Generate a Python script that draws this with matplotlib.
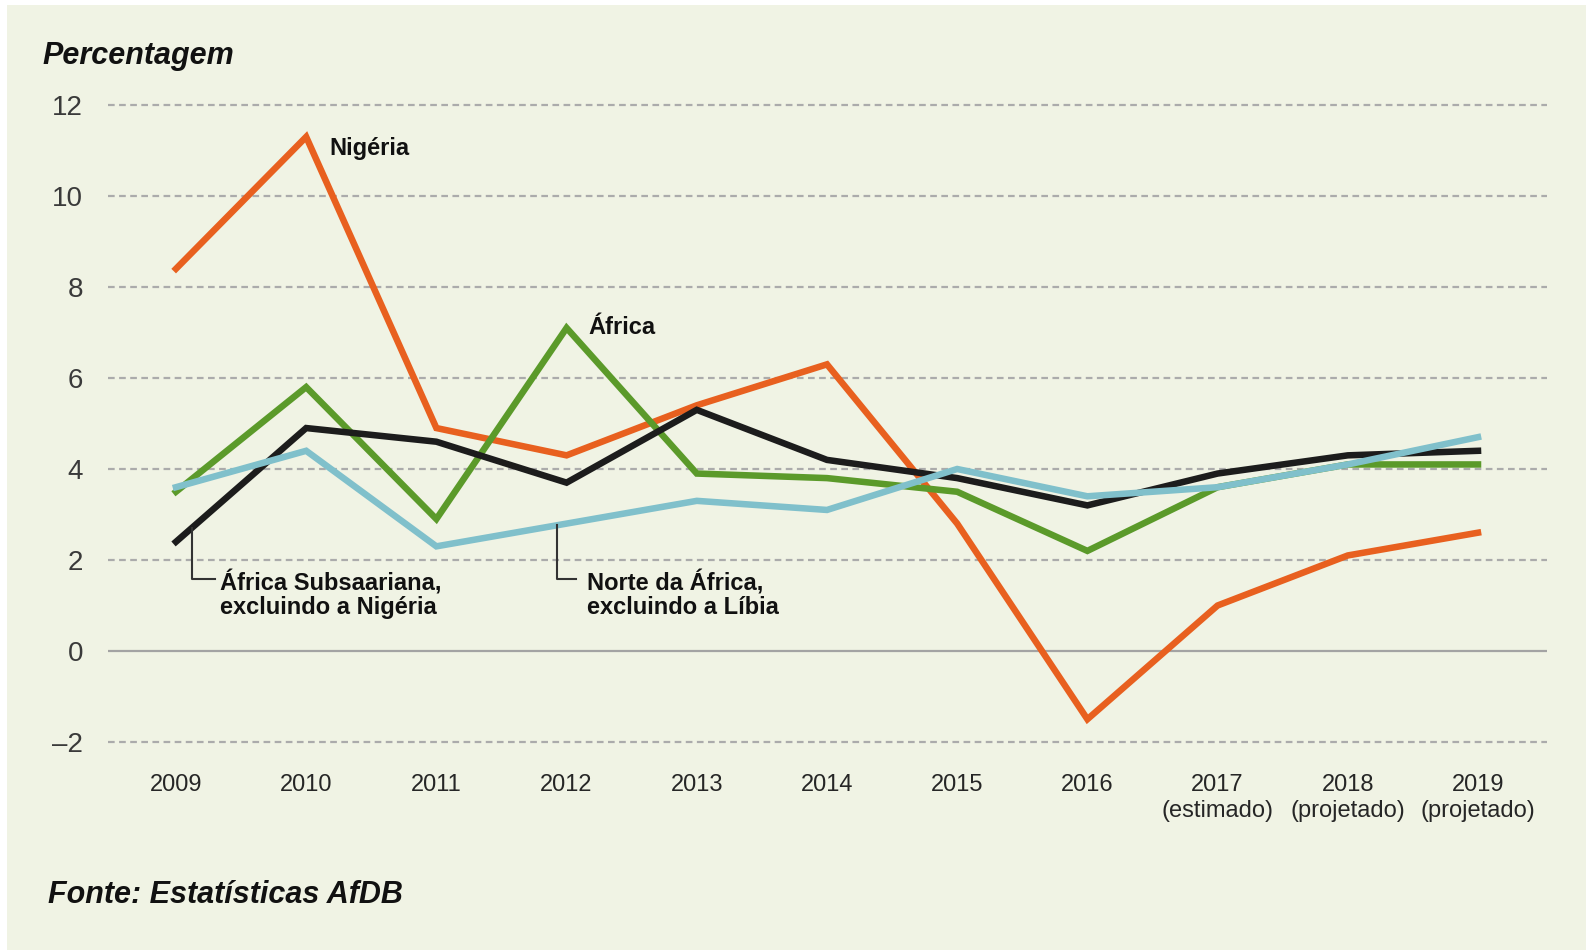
import matplotlib
matplotlib.use("Agg")
import matplotlib.pyplot as plt
from matplotlib.patches import Rectangle

# dados (percentagem)
anos = ["2009", "2010", "2011", "2012", "2013", "2014", "2015", "2016",
        "2017\n(estimado)", "2018\n(projetado)", "2019\n(projetado)"]
nigeria = [8.4, 11.3, 4.9, 4.3, 5.4, 6.3, 2.8, -1.5, 1.0, 2.1, 2.6]
africa = [3.5, 5.8, 2.9, 7.1, 3.9, 3.8, 3.5, 2.2, 3.6, 4.1, 4.1]
subsaariana = [2.4, 4.9, 4.6, 3.7, 5.3, 4.2, 3.8, 3.2, 3.9, 4.3, 4.4]
norte = [3.6, 4.4, 2.3, 2.8, 3.3, 3.1, 4.0, 3.4, 3.6, 4.1, 4.7]
yticks = [-2, 0, 2, 4, 6, 8, 10, 12]

BG = "#f0f3e4"
W, H = 1586, 950

plt.rcParams["font.family"] = ["Liberation Sans", "DejaVu Sans"]
fig = plt.figure(figsize=(W / 100, H / 100), dpi=100, facecolor="white")
fig.patches.append(Rectangle((7 / W, 0), 1 - 7 / W, (H - 5) / H, transform=fig.transFigure,
                             facecolor=BG, edgecolor="none", zorder=-10))

ax = fig.add_axes([108 / W, (H - 760.2) / H, (1547 - 108) / W, (760.2 - 86.8) / H])
ax.set_facecolor("none")
x = list(range(len(anos)))

# grade tracejada e linha do zero
for v in yticks:
    if v == 0:
        ax.axhline(v, color="#a3a3a3", lw=1.6, zorder=1)
    else:
        ax.axhline(v, color="#ababab", lw=1.6, ls=(0, (3, 2)), zorder=1)

ax.plot(x, nigeria, color="#e8601f", lw=4.7, zorder=3, solid_joinstyle="miter")
ax.plot(x, africa, color="#5b9a2a", lw=4.7, zorder=4, solid_joinstyle="miter")
ax.plot(x, subsaariana, color="#1c1c1c", lw=4.7, zorder=5, solid_joinstyle="miter")
ax.plot(x, norte, color="#80c0cb", lw=4.7, zorder=6, solid_joinstyle="miter")

ax.set_xlim(-0.522, 10.53)
ax.set_ylim(-2.4, 12.4)
ax.set_yticks(yticks)
ax.set_yticklabels(["\u20132" if v < 0 else str(v) for v in yticks])
ax.set_xticks(x)
ax.set_xticklabels(anos, fontsize=17, linespacing=1.25)
ax.tick_params(axis="y", length=0, pad=18, labelsize=20, labelcolor="#3a3a3a")
ax.tick_params(axis="x", length=0, pad=10, labelcolor="#262626")
for s in ax.spines.values():
    s.set_visible(False)

# rótulos das séries
lab = dict(fontsize=17, fontweight="bold", color="#111111")
ax.text(1.175, 11.05, "Nigéria", va="center", ha="left", **lab)
ax.text(3.17, 7.12, "África", va="center", ha="left", **lab)
ax.plot([0.12, 0.12, 0.3], [2.7, 1.58, 1.58], color="#333333", lw=1.5, zorder=7)
ax.text(0.335, 1.24, "África Subsaariana,\nexcluindo a Nigéria", va="center", ha="left",
        linespacing=1.05, **lab)
ax.plot([2.93, 2.93, 3.07], [2.77, 1.58, 1.58], color="#333333", lw=1.5, zorder=7)
ax.text(3.16, 1.24, "Norte da África,\nexcluindo a Líbia", va="center", ha="left",
        linespacing=1.05, **lab)

fig.text(42.5 / W, 1 - 55.6 / H, "Percentagem", fontsize=22, fontweight="bold",
         fontstyle="italic", va="center", ha="left", color="#111111")
fig.text(47.5 / W, 1 - 895 / H, "Fonte: Estatísticas AfDB", fontsize=22, fontweight="bold",
         fontstyle="italic", va="center", ha="left", color="#111111")

fig.savefig("out.png", dpi=100, facecolor=fig.get_facecolor())
